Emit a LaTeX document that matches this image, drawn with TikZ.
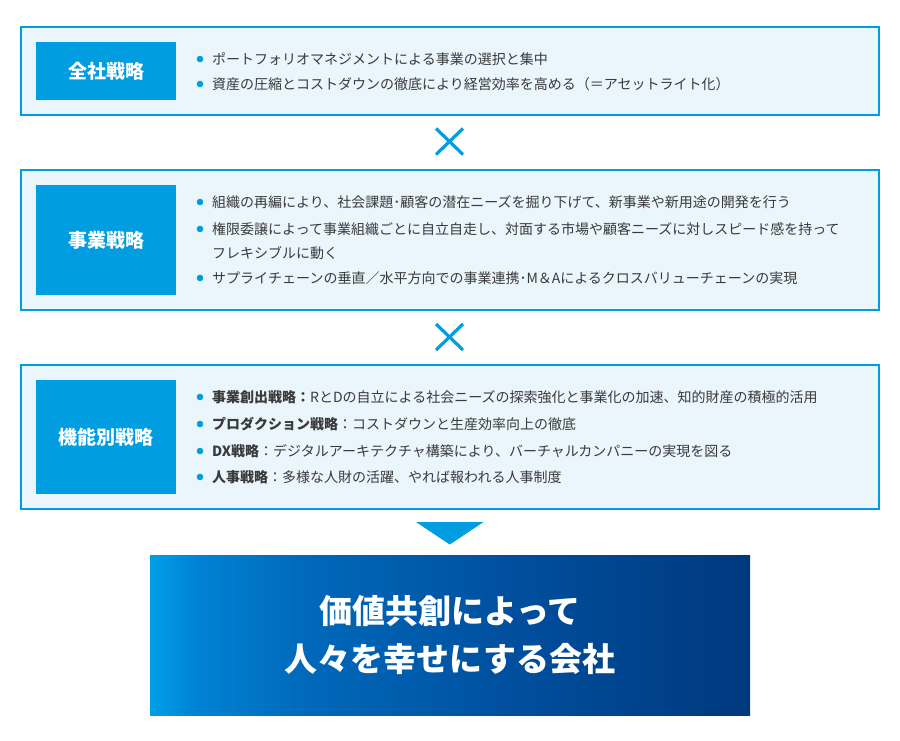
\documentclass[tikz,border=0pt]{standalone}
\usepackage{fontspec}
\newfontfamily\jp{Noto Sans CJK JP}
\definecolor{cblue}{HTML}{009DE1}
\definecolor{cpale}{HTML}{EAF5FC}
\definecolor{ctext}{HTML}{3A3A3A}
\pgfdeclarehorizontalshading{endgrad}{100bp}{rgb(0bp)=(0,0.62,0.91); rgb(25bp)=(0,0.62,0.91); rgb(29bp)=(0,0.51,0.83); rgb(38bp)=(0,0.41,0.73); rgb(55bp)=(0,0.31,0.62); rgb(75bp)=(0,0.22,0.49); rgb(100bp)=(0,0.22,0.49)}
\tikzset{
  panel/.style={draw=cblue, fill=cpale, line width=2pt, inner sep=0pt},
  tag/.style={fill=cblue, text=white, inner sep=0pt, font=\jp\bfseries\fontsize{19}{19}\selectfont},
  item/.style={anchor=west, inner sep=0pt, text=ctext, font=\jp\fontsize{14}{14}\selectfont},
  dot/.style={fill=cblue},
  crossline/.style={draw=cblue, line width=3.2pt},
  arrowhead/.style={fill=cblue},
  finaltext/.style={text=white, align=center, inner sep=0pt, font=\jp\bfseries\fontsize{33}{48}\selectfont},
}
\begin{document}
\begin{tikzpicture}[x=1pt,y=-1pt]
\useasboundingbox[fill=white] (0,0) rectangle (900,740);
% panels
\node[panel, minimum width=858pt, minimum height=88pt] (p1) at (450,71) {};
\node[panel, minimum width=858pt, minimum height=140pt] (p2) at (450,240) {};
\node[panel, minimum width=858pt, minimum height=144pt] (p3) at (450,437) {};
% tags
\node[tag, minimum width=140pt, minimum height=58pt] (t1) at (106,71) {全社戦略};
\node[tag, minimum width=140pt, minimum height=110pt] (t2) at (106,240) {事業戦略};
\node[tag, minimum width=140pt, minimum height=114pt] (t3) at (106,437) {機能別戦略};
% panel 1 items
\fill[dot] (200,59) circle[radius=3.3pt];
\node[item] (a1) at (212,59) {ポートフォリオマネジメントによる事業の選択と集中};
\fill[dot] (200,84) circle[radius=3.3pt];
\node[item] (a2) at (212,84) {資産の圧縮とコストダウンの徹底により経営効率を高める（＝アセットライト化）};
% panel 2 items
\fill[dot] (200,202) circle[radius=3.3pt];
\node[item] (b1) at (212,202) {組織の再編により、社会課題･顧客の潜在ニーズを掘り下げて、新事業や新用途の開発を行う};
\fill[dot] (200,229) circle[radius=3.3pt];
\node[item] (b2) at (212,229) {権限委譲によって事業組織ごとに自立自走し、対面する市場や顧客ニーズに対しスピード感を持って};
\node[item] (b2b) at (212,253) {フレキシブルに動く};
\fill[dot] (200,278) circle[radius=3.3pt];
\node[item] (b3) at (212,278) {サプライチェーンの垂直／水平方向での事業連携･M＆Aによるクロスバリューチェーンの実現};
% panel 3 items
\fill[dot] (200,397) circle[radius=3.3pt];
\node[item] (c1) at (212,397) {{\bfseries 事業創出戦略：}RとDの自立による社会ニーズの探索強化と事業化の加速、知的財産の積極的活用};
\fill[dot] (200,424) circle[radius=3.3pt];
\node[item] (c2) at (212,424) {{\bfseries プロダクション戦略}：コストダウンと生産効率向上の徹底};
\fill[dot] (200,451) circle[radius=3.3pt];
\node[item] (c3) at (212,451) {{\bfseries DX戦略}：デジタルアーキテクチャ構築により、バーチャルカンパニーの実現を図る};
\fill[dot] (200,477) circle[radius=3.3pt];
\node[item] (c4) at (212,477) {{\bfseries 人事戦略}：多様な人財の活躍、やれば報われる人事制度};
% crosses
\coordinate (x1) at (449.5,141.5);
\coordinate (x2) at (449.5,337);
\draw[crossline] ([shift={(-13.5,-13)}]x1) -- ([shift={(13.5,13)}]x1);
\draw[crossline] ([shift={(-13.5,13)}]x1) -- ([shift={(13.5,-13)}]x1);
\draw[crossline] ([shift={(-13.5,-13)}]x2) -- ([shift={(13.5,13)}]x2);
\draw[crossline] ([shift={(-13.5,13)}]x2) -- ([shift={(13.5,-13)}]x2);
% arrow triangle
\fill[arrowhead] (416,522) -- (483.5,522) -- (449.75,544.5) -- cycle;
% final box
\begin{scope}
\clip (150,555) rectangle (750,715);
\shade[shading=endgrad, shading angle=0] (150,555) rectangle (750,715);
\end{scope}
\node[finaltext] (g) at (450,635) {価値共創によって\\人々を幸せにする会社};
\end{tikzpicture}
\end{document}
